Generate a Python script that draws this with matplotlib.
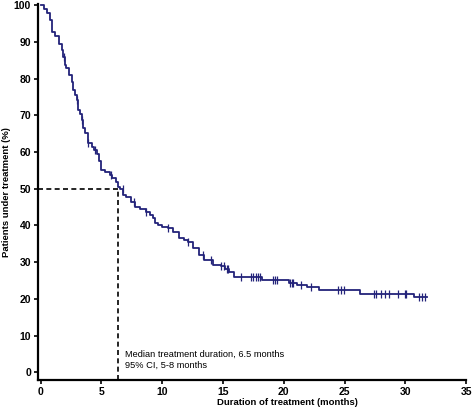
import numpy as np
import matplotlib
matplotlib.use("Agg")
import matplotlib.pyplot as plt

plt.rcParams['font.family'] = ['Liberation Sans', 'DejaVu Sans']

# Kaplan-Meier step curve (months, % under treatment)
step_times = [0, 0.3, 0.5, 0.76, 0.9, 1.2, 1.5, 1.72, 1.85, 2.0, 2.1, 2.3, 2.54, 2.7,
              2.85, 2.95, 3.08, 3.2, 3.36, 3.5, 3.63, 3.9, 4.2, 4.4, 4.6, 4.8, 5.0,
              5.3, 5.68, 5.9, 6.23, 6.4, 6.5, 6.77, 7.05, 7.4, 7.73, 8.2, 8.69, 9.0,
              9.23, 9.37, 9.64, 10.0, 10.46, 10.9, 11.4, 11.8, 12.1, 12.5, 13.05,
              13.47, 14.15, 14.8, 15.2, 15.5, 15.9, 18.2, 20.4, 21.1, 21.9, 22.9,
              26.3, 30.7]
step_surv = [100, 99.1, 98.0, 96.0, 92.7, 91.5, 89.5, 87.8, 86.0, 83.7, 82.8, 81.0,
             79.1, 77.0, 75.5, 74.1, 71.4, 70.3, 68.7, 66.5, 65.1, 62.4, 61.5, 60.5,
             59.6, 57.5, 55.1, 54.5, 53.7, 53.0, 51.9, 50.5, 49.9, 48.3, 47.8, 46.5,
             45.1, 44.5, 43.8, 42.8, 42.0, 40.8, 40.1, 39.5, 39.2, 38.2, 36.5, 36.0,
             35.6, 33.8, 32.0, 30.6, 29.3, 29.0, 28.2, 27.4, 25.9, 25.2, 24.4, 23.8,
             23.2, 22.3, 21.4, 20.6]
end_time = 31.8

# censored observations (months)
censor_times = [1.96, 2.95, 3.4, 3.9, 4.5, 5.75, 6.75, 7.7, 8.7, 10.46, 12.1,
                13.33, 14.0, 14.84, 15.1, 15.3, 15.43, 16.47, 17.3, 17.43, 17.7,
                17.92, 18.06, 19.12, 19.29, 19.48, 20.49, 20.66, 20.76, 21.39, 22.2,
                24.48, 24.67, 24.94, 27.4, 27.6, 28.0, 28.36, 28.69, 29.37, 29.94,
                30.05, 31.15, 31.36, 31.64]

median_time = 6.4
median_pct = 50
x_ticks = [0, 5, 10, 15, 20, 25, 30, 35]
y_ticks = [0, 10, 20, 30, 40, 50, 60, 70, 80, 90, 100]
annot = "Median treatment duration, 6.5 months\n95% CI, 5-8 months"

fig = plt.figure(figsize=(4.72, 4.18), dpi=100)
ax = fig.add_axes([0.0805, 0.091, 0.907, 0.899])

line_color = '#23237a'
t = np.array(step_times + [end_time])
s = np.array(step_surv + [step_surv[-1]])
ax.plot(t, s, drawstyle='steps-post', color=line_color, lw=1.3)

st = np.array(step_times)
ss = np.array(step_surv)
idx = np.searchsorted(st, np.array(censor_times), side='right') - 1
ax.plot(censor_times, ss[idx], linestyle='none', marker='|', markersize=5.5,
        markeredgewidth=0.9, color=line_color)

ax.plot([-0.22, median_time], [median_pct, median_pct], color='black', lw=1.2,
        dashes=(3, 2))
ax.plot([median_time, median_time], [-2.1, median_pct], color='black', lw=1.2,
        dashes=(3, 2))

ax.text(6.9, 3.4, annot, fontsize=6.7, va='center', ha='left', linespacing=1.35)

ax.set_xlim(-0.22, 35)
ax.set_ylim(-2.1, 100.3)
ax.set_xticks(x_ticks)
ax.set_yticks(y_ticks)
for sp in ['top', 'right']:
    ax.spines[sp].set_visible(False)
for sp in ['left', 'bottom']:
    ax.spines[sp].set_linewidth(1.6)
ax.tick_params(direction='out', length=3, width=1.2, labelsize=7.5, pad=2)
for lab in ax.get_xticklabels() + ax.get_yticklabels():
    lab.set_fontweight('bold')

ax.set_xlabel('Duration of treatment (months)', fontsize=6.8, fontweight='bold')
ax.set_ylabel('Patients under treatment (%)', fontsize=6.8, fontweight='bold')
ax.xaxis.set_label_coords(0.582, -0.048)
ax.yaxis.set_label_coords(-0.063, 0.5)

fig.savefig('out.png', dpi=100)
